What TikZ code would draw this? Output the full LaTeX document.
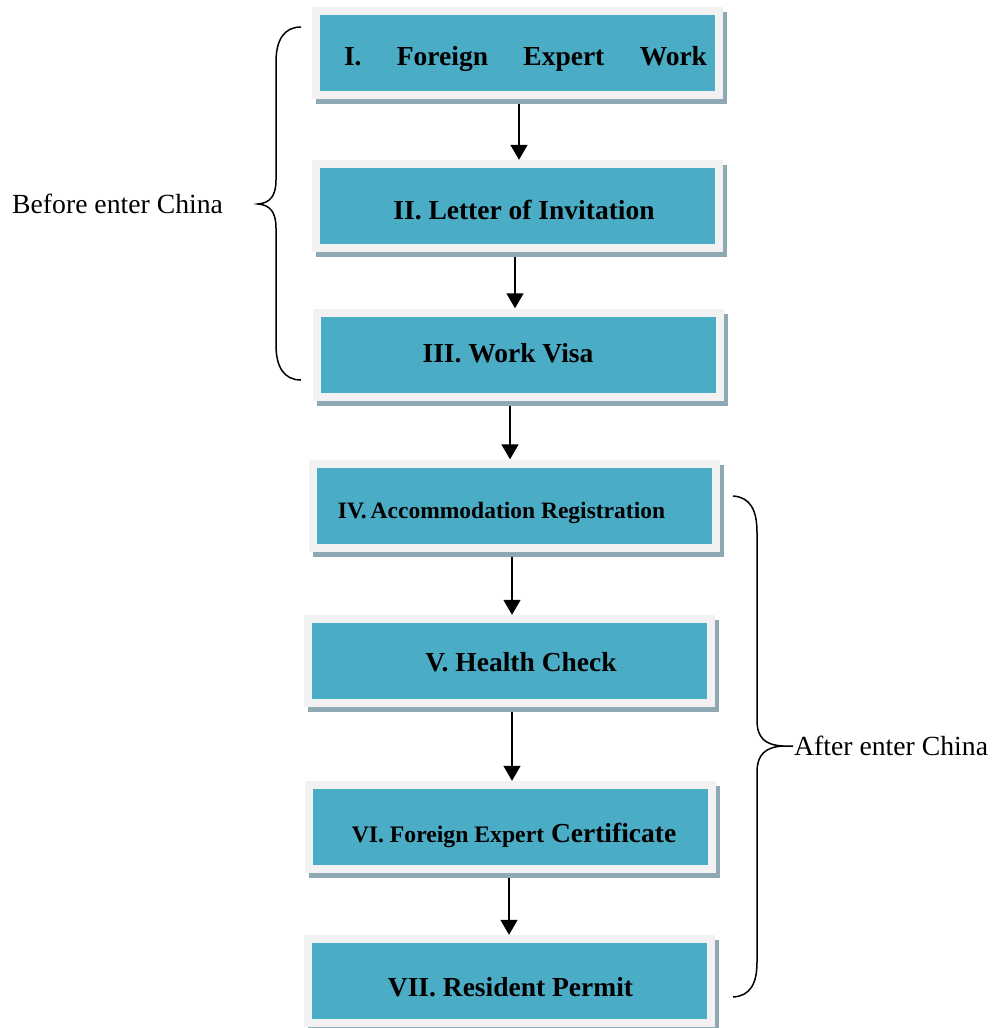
\documentclass[tikz,border=0pt]{standalone}
\usepackage{fontspec}
\setmainfont{Liberation Serif}
\usepackage{tikz}
\usetikzlibrary{arrows.meta, shadows}
\definecolor{boxteal}{HTML}{4BACC6}
\definecolor{framegray}{HTML}{F2F2F2}
\definecolor{shadowgray}{HTML}{8FA9B4}
\tikzset{
  stage/.style={rectangle, fill=framegray, inner sep=0pt,
                minimum width=411pt, minimum height=92pt,
                drop shadow={shadow xshift=4pt, shadow yshift=-5pt, fill=shadowgray, opacity=1},
                path picture={\fill[boxteal] ([shift={(8pt,8pt)}]path picture bounding box.south west)
                  rectangle ([shift={(-8pt,-8pt)}]path picture bounding box.north east);}},
  stagelbl/.style={font=\fontsize{27.5}{32}\selectfont\bfseries, inner sep=0pt},
  fl/.style={-{Triangle[length=15pt,width=17pt]}, line width=1.5pt, draw=black},
  brc/.style={line width=1.5pt, draw=black},
  side/.style={font=\fontsize{27.7}{32}\selectfont, inner sep=0pt}
}
\begin{document}
\begin{tikzpicture}[x=1pt, y=-1pt]
\useasboundingbox (0,0) rectangle (995,1028);
% stages
\node[stage, label={[stagelbl, xshift=8.5pt, yshift=-6pt]center:\makebox[363pt][s]{I. Foreign Expert Work}}] (s1) at (517,53) {};
\node[stage, label={[stagelbl, xshift=6.5pt, yshift=-4pt]center:II. Letter of Invitation}] (s2) at (517.5,206) {};
\node[stage, label={[stagelbl, xshift=-10pt, yshift=1pt]center:III. Work Visa}] (s3) at (518,354.5) {};
\node[stage, label={[stagelbl, font=\fontsize{23.5}{28}\selectfont\bfseries, xshift=-13pt, yshift=-7pt]center:IV.\,Accommodation Registration}] (s4) at (514.5,505.5) {};
\node[stage, label={[stagelbl, xshift=12pt, yshift=-1pt]center:V. Health Check}] (s5) at (509,661) {};
\node[stage, label={[stagelbl, xshift=3.5pt, yshift=-8pt]center:{\fontsize{23.7}{28}\selectfont VI. Foreign Expert} Certificate}] (s6) at (510.5,827) {};
\node[stage, label={[stagelbl, xshift=1.5pt, yshift=-6pt]center:VII. Resident Permit}] (s7) at (509,981) {};
% arrows
\draw[fl] ([xshift=2pt, yshift=-5pt]s1.south) -- ([xshift=2pt]s1.south |- s2.north);
\draw[fl] ([xshift=-2.5pt, yshift=-5pt]s2.south) -- ([xshift=-2.5pt]s2.south |- s3.north);
\draw[fl] ([xshift=-8pt, yshift=-5pt]s3.south) -- ([xshift=-8pt]s3.south |- s4.north);
\draw[fl] ([xshift=-2.5pt, yshift=-5pt]s4.south) -- ([xshift=-2.5pt]s4.south |- s5.north);
\draw[fl] ([xshift=3pt, yshift=-5pt]s5.south) -- ([xshift=3pt]s5.south |- s6.north);
\draw[fl] ([xshift=-1.5pt, yshift=-5pt]s6.south) -- ([xshift=-1.5pt]s6.south |- s7.north);
% braces
\draw[brc] (301,27) .. controls (284,27) and (276,40) .. (276,62) -- (276,180)
  .. controls (276,196) and (270,203) .. (258,204)
  .. controls (270,205) and (276,212) .. (276,228) -- (276,345)
  .. controls (276,367) and (284,380) .. (301,380);
\draw[brc] (733,496) .. controls (750,497) and (757,510) .. (757,532) -- (757,720)
  .. controls (757,738) and (765,745) .. (783,746) -- (793,746)
  (783,746) .. controls (765,747) and (757,755) .. (757,772) -- (757,962)
  .. controls (757,984) and (750,996) .. (733,997);
\node[side, anchor=west] (before) at (12,204) {Before enter China};
\node[side, anchor=west] (after) at (794,746) {After enter China};
\end{tikzpicture}
\end{document}
